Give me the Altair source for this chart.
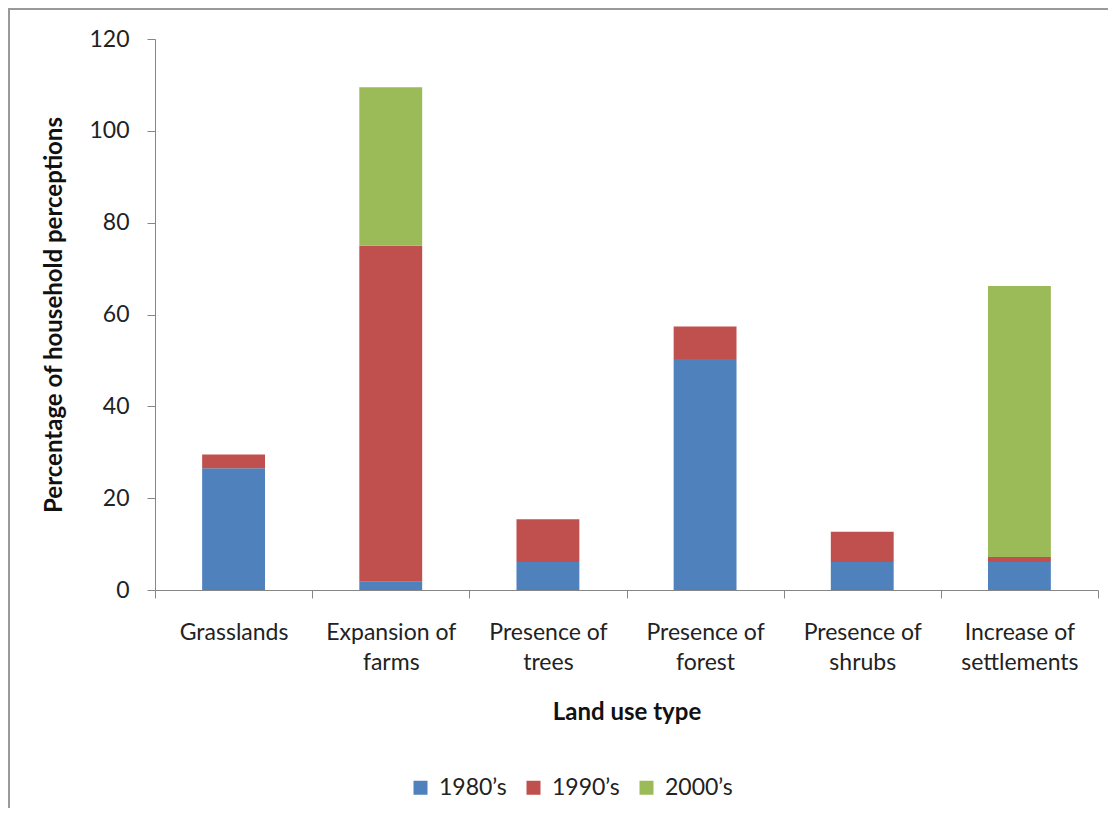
import altair as alt
import pandas as pd

categories = ["Grasslands", "Expansion of farms", "Presence of trees",
              "Presence of forest", "Presence of shrubs", "Increase of settlements"]
series = ["1980\u2019s", "1990\u2019s", "2000\u2019s"]
v1980 = [26.5, 1.8, 6.1, 50.3, 6.1, 6.1]
v1990 = [3.0, 73.2, 9.3, 7.1, 6.6, 1.1]
v2000 = [0.0, 34.5, 0.0, 0.0, 0.0, 59.0]
colors = ["#4F81BD", "#C0504D", "#9BBB59"]

rows = []
for s_i, (s, vals) in enumerate(zip(series, [v1980, v1990, v2000])):
    for c, v in zip(categories, vals):
        rows.append({"category": c, "period": s, "value": v, "order": s_i})
df = pd.DataFrame(rows)

FONT = "Lato"
GRAY = "#868686"

label_expr = ("indexof(datum.label, ' of ') > 0 ? "
              "[slice(datum.label, 0, indexof(datum.label, ' of ') + 3), "
              "slice(datum.label, indexof(datum.label, ' of ') + 4)] : datum.label")

bars = alt.Chart(df).mark_bar(width=alt.RelativeBandSize(0.4)).encode(
    x=alt.X("category:N", sort=categories,
            scale=alt.Scale(paddingInner=0, paddingOuter=0),
            axis=alt.Axis(title="Land use type", labelAngle=0, labelExpr=label_expr,
                          tickBand="extent", tickSize=8, labelPadding=23,
                          labelLineHeight=30, titlePadding=26, labelBaseline="top")),
    y=alt.Y("value:Q", stack="zero",
            scale=alt.Scale(domain=[0, 120], nice=False),
            axis=alt.Axis(title="Percentage of household perceptions",
                          values=[0, 20, 40, 60, 80, 100, 120], grid=False,
                          tickSize=8, labelPadding=18, titlePadding=22)),
    color=alt.Color("period:N", sort=series,
                    scale=alt.Scale(domain=series, range=colors),
                    legend=alt.Legend(title=None, orient="none", direction="horizontal",
                                      legendX=254, legendY=737, symbolType="square",
                                      symbolSize=196, symbolStrokeWidth=0,
                                      labelFontSize=23, labelFont=FONT,
                                      labelColor="#222222", labelOffset=7,
                                      columnPadding=15)),
    order=alt.Order("order:Q", sort="ascending"),
)

frame = alt.Chart(df).mark_rect(fill=None, stroke="#9a9a9a", strokeWidth=2, clip=False).encode(
    x=alt.value(-146), x2=alt.value(3000), y=alt.value(-30), y2=alt.value(3000)
)

chart = alt.layer(frame, bars).properties(
    width=943, height=551,
    padding={"left": 147, "top": 31, "right": 10, "bottom": 218},
    autosize=alt.AutoSizeParams(type="none"),
).configure_view(stroke=None).configure_axis(
    domainColor=GRAY, tickColor=GRAY, labelFont=FONT, titleFont=FONT,
    labelFontSize=23, titleFontSize=24, labelColor="#222222", titleColor="#111111",
    titleFontWeight="bold"
)

chart.save("out.html", embed_options={"renderer": "svg", "actions": False})
